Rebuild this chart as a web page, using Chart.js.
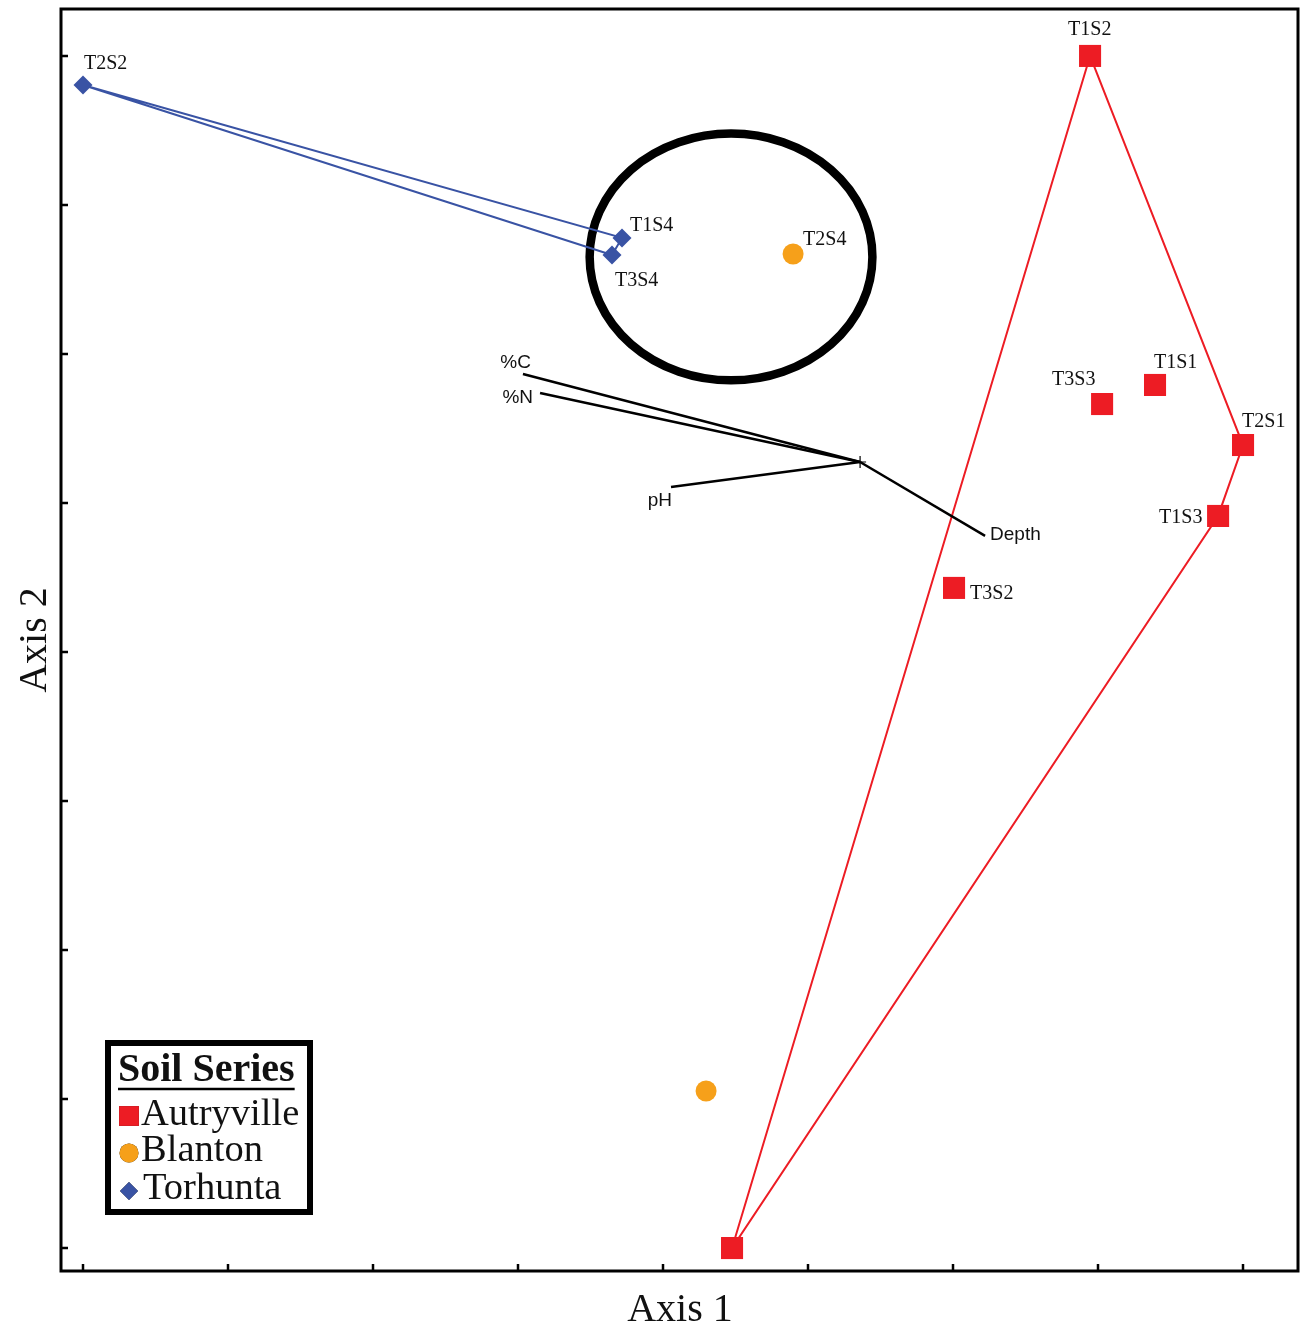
<!DOCTYPE html>
<html>
<head>
<meta charset="utf-8">
<script src="https://cdn.jsdelivr.net/npm/chart.js@4/dist/chart.umd.min.js"></script>
<style>
  html, body { margin: 0; padding: 0; background: #fff; overflow: hidden; }
  #wrap { width: 1301px; height: 1325px; }
  canvas { display: block; }
</style>
</head>
<body>
<div id="wrap"><canvas id="c" width="1301" height="1325"></canvas></div>
<script>
// ---------- data ----------
const tickValuesX = [0, 1, 2, 3, 4, 5, 6, 7, 8];
const tickValuesY = [0, 1, 2, 3, 4, 5, 6, 7, 8];

const autryLabels = ['T1S2', 'T1S1', 'T3S3', 'T2S1', 'T1S3', 'T3S2', ''];
const autryX = [6.945, 7.393, 7.028, 8.0, 7.828, 6.007, 4.476];
const autryY = [8.0, 5.792, 5.664, 5.389, 4.913, 4.430, 0.0];
const autryHull = [0, 3, 4, 6, 0];

const blantonLabels = ['T2S4', ''];
const blantonX = [4.897, 4.297];
const blantonY = [6.671, 1.054];

const torLabels = ['T2S2', 'T1S4', 'T3S4'];
const torX = [0.0, 3.717, 3.648];
const torY = [7.805, 6.779, 6.664];
const torHull = [0, 1, 2, 0];

const vecNames = ['%C', '%N', 'pH', 'Depth'];
const vecOrigin = [5.359, 5.275];
const vecX = [3.034, 3.152, 4.055, 6.221];
const vecY = [5.866, 5.738, 5.107, 4.779];

const ellipseCenter = [4.469, 6.651];
const ellipseRadii = [0.975, 0.828];

const seriesNames = ['Autryville', 'Blanton', 'Torhunta'];
const legendTitle = 'Soil Series';
const axisTitles = ['Axis 1', 'Axis 2'];

// ---------- styles ----------
const RED = '#ED1C24', ORANGE = '#F6A01A', BLUE = '#3953A4';
const SERIF = '"Liberation Serif", "Times New Roman", serif';
const SANS = '"Liberation Sans", Arial, sans-serif';

// label offsets (left x, baseline y) relative to point, in pixels
const labelOffsets = {
  'T2S2': [1, -16], 'T1S2': [-22, -21], 'T1S4': [8, -7], 'T3S4': [3, 31],
  'T2S4': [10, -9], 'T3S3': [-50, -19], 'T1S1': [-1, -17], 'T2S1': [-1, -18],
  'T1S3': [-59, 7], 'T3S2': [16, 11]
};
const vecLabelPos = { // (align, dx, dy) relative to vector end
  '%C': ['right', 8, -6], '%N': ['right', -7, 10], 'pH': ['right', 1, 19], 'Depth': ['left', 5, 4]
};

const pts = (xs, ys) => xs.map((x, i) => ({ x: x, y: ys[i] }));
const hullPts = (xs, ys, idx) => idx.map(i => ({ x: xs[i], y: ys[i] }));

const datasets = [
  { label: 'Autryville hull', data: hullPts(autryX, autryY, autryHull), showLine: true,
    borderColor: RED, borderWidth: 2, pointRadius: 0, fill: false, order: 10 },
  { label: 'Torhunta hull', data: hullPts(torX, torY, torHull), showLine: true,
    borderColor: BLUE, borderWidth: 2, pointRadius: 0, fill: false, order: 10 },
];
vecNames.forEach((n, i) => {
  datasets.push({ label: 'vec ' + n, data: [{ x: vecOrigin[0], y: vecOrigin[1] }, { x: vecX[i], y: vecY[i] }],
    showLine: true, borderColor: '#000', borderWidth: 2.5, pointRadius: 0, order: 9 });
});
datasets.push({ label: 'origin', data: [{ x: vecOrigin[0], y: vecOrigin[1] }], pointStyle: 'cross',
  pointRadius: 6, borderColor: '#000', borderWidth: 1.2, order: 8 });
datasets.push({ label: seriesNames[0], data: pts(autryX, autryY), pointStyle: 'rect', pointRadius: 15.6,
  backgroundColor: RED, borderColor: RED, borderWidth: 0, order: 1, names: autryLabels });
datasets.push({ label: seriesNames[1], data: pts(blantonX, blantonY), pointStyle: 'circle', pointRadius: 10.5,
  backgroundColor: ORANGE, borderColor: ORANGE, borderWidth: 0, order: 1, names: blantonLabels });
datasets.push({ label: seriesNames[2], data: pts(torX, torY), pointStyle: 'rectRot', pointRadius: 9.5,
  backgroundColor: BLUE, borderColor: BLUE, borderWidth: 0, order: 1, names: torLabels });

const decor = {
  id: 'decor',
  beforeDatasetsDraw(chart) {
    const ctx = chart.ctx, xs = chart.scales.x, ys = chart.scales.y;
    const cx = xs.getPixelForValue(ellipseCenter[0]), cy = ys.getPixelForValue(ellipseCenter[1]);
    const rx = xs.getPixelForValue(ellipseCenter[0] + ellipseRadii[0]) - cx;
    const ry = cy - ys.getPixelForValue(ellipseCenter[1] + ellipseRadii[1]);
    ctx.save();
    ctx.beginPath();
    ctx.ellipse(cx, cy, rx, ry, 0, 0, Math.PI * 2);
    ctx.lineWidth = 8.5;
    ctx.strokeStyle = '#000';
    ctx.stroke();
    ctx.restore();
  },
  afterDatasetsDraw(chart) {
    const ctx = chart.ctx, xs = chart.scales.x, ys = chart.scales.y, a = chart.chartArea;
    ctx.save();
    ctx.fillStyle = '#111';
    ctx.font = '20px ' + SERIF;
    ctx.textBaseline = 'alphabetic';
    ctx.textAlign = 'left';
    chart.data.datasets.forEach(ds => {
      if (!ds.names) return;
      ds.data.forEach((p, i) => {
        const n = ds.names[i];
        if (!n) return;
        const off = labelOffsets[n] || [8, -8];
        ctx.fillText(n, xs.getPixelForValue(p.x) + off[0], ys.getPixelForValue(p.y) + off[1]);
      });
    });
    ctx.font = '19px ' + SANS;
    vecNames.forEach((n, i) => {
      const o = vecLabelPos[n];
      ctx.textAlign = o[0];
      ctx.fillText(n, xs.getPixelForValue(vecX[i]) + o[1], ys.getPixelForValue(vecY[i]) + o[2]);
    });
    // frame
    ctx.strokeStyle = '#000';
    ctx.lineWidth = 3;
    ctx.strokeRect(a.left, a.top, a.right - a.left, a.bottom - a.top);
    // inward ticks
    ctx.lineWidth = 2.5;
    ctx.beginPath();
    tickValuesX.forEach(v => {
      const px = Math.round(xs.getPixelForValue(v));
      ctx.moveTo(px, a.bottom); ctx.lineTo(px, a.bottom - 7);
    });
    tickValuesY.forEach(v => {
      const py = Math.round(ys.getPixelForValue(v));
      ctx.moveTo(a.left, py); ctx.lineTo(a.left + 7, py);
    });
    ctx.stroke();
    // axis titles
    ctx.fillStyle = '#111';
    ctx.font = '40px ' + SERIF;
    ctx.textAlign = 'center';
    ctx.textBaseline = 'alphabetic';
    ctx.fillText(axisTitles[0], 680, 1321);
    ctx.save();
    ctx.translate(46, 640);
    ctx.rotate(-Math.PI / 2);
    ctx.fillText(axisTitles[1], 0, 0);
    ctx.restore();
    // legend box
    const bx = 108, by = 1043, bw = 202, bh = 169;
    ctx.fillStyle = '#fff';
    ctx.fillRect(bx, by, bw, bh);
    ctx.lineWidth = 6;
    ctx.strokeStyle = '#000';
    ctx.strokeRect(bx, by, bw, bh);
    ctx.fillStyle = '#111';
    ctx.textAlign = 'left';
    ctx.font = 'bold 40px ' + SERIF;
    ctx.fillText(legendTitle, 118, 1081);
    const tw = ctx.measureText(legendTitle).width;
    ctx.lineWidth = 2.5;
    ctx.beginPath(); ctx.moveTo(118, 1089); ctx.lineTo(118 + tw, 1089); ctx.stroke();
    ctx.font = '38.5px ' + SERIF;
    const rows = [1125, 1161, 1199];
    const textX = [141, 141, 143];
    const markers = [['rect', RED, 14], ['circle', ORANGE, 9.5], ['rectRot', BLUE, 9]];
    const my = [1116, 1153, 1191];
    seriesNames.forEach((n, i) => {
      const m = markers[i];
      Chart.helpers.drawPoint(ctx, { pointStyle: m[0], radius: m[2], borderWidth: 0 }, 129, my[i]);
      ctx.fillStyle = m[1];
      ctx.fill();
      ctx.fillStyle = '#111';
      ctx.fillText(n, textX[i], rows[i]);
    });
    ctx.restore();
  }
};

new Chart(document.getElementById('c'), {
  type: 'scatter',
  data: { datasets: datasets },
  options: {
    responsive: false,
    animation: false,
    devicePixelRatio: 1,
    layout: { autoPadding: false, padding: { left: 61, top: 9, right: 3, bottom: 54 } },
    plugins: { legend: { display: false }, tooltip: { enabled: false }, title: { display: false } },
    scales: {
      x: { type: 'linear', display: false, min: -0.1517, max: 8.379 },
      y: { type: 'linear', display: false, min: -0.154, max: 8.315 }
    }
  },
  plugins: [decor]
});
</script>
</body>
</html>
